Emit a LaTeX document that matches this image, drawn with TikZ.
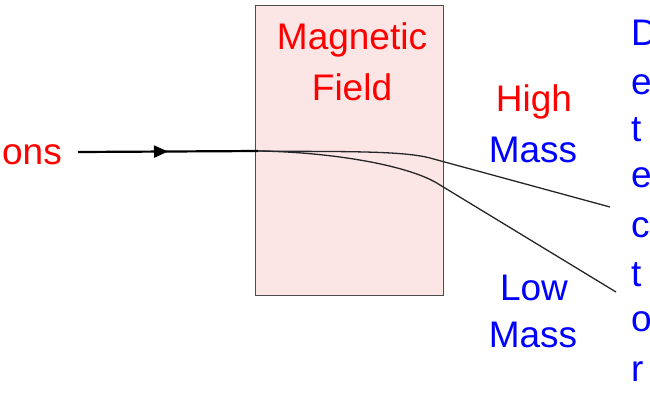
\documentclass[tikz,border=0pt]{standalone}
\usepackage{fontspec}
\setmainfont{Liberation Sans}
\usetikzlibrary{arrows.meta,decorations.markings}
\begin{document}
\begin{tikzpicture}[x=1pt,y=-1pt,
  lbl/.style={font=\fontsize{37}{37}\selectfont,inner sep=0pt},
  red/.style={text={rgb,255:red,255;green,0;blue,0}},
  blu/.style={text={rgb,255:red,0;green,0;blue,255}},
  path/.style={draw=black!85,line width=1.3pt}]
\useasboundingbox (0,0) rectangle (650,400);
\clip (0,0) rectangle (650,400);
\node[draw=black!70,line width=1pt,fill={rgb,255:red,251;green,229;blue,229},minimum width=188,minimum height=290,inner sep=0pt] (box) at (349,150) {};
\node[lbl,red] (mag) at (352,40) {Magnetic};
\node[lbl,red] (fld) at (352,87) {Field};
\node[lbl,red,anchor=east] (ions) at (62,152) {Ions};
\coordinate (s) at (78,152);
\coordinate (e) at (258,151);
\coordinate (hi) at (610,207);
\coordinate (lo) at (616,292);
\draw[line width=2.2pt,decoration={markings,mark=at position 0.5 with {\arrow{Triangle[length=14,width=12]}}},postaction=decorate] (s) -- (e);
\draw[path] (e) .. controls (330,152) and (400,150) .. (430,158) -- (hi);
\draw[path] (e) .. controls (330,152) and (410,165) .. (440,185) -- (lo);
\node[lbl,red] (high) at (534,102) {High};
\node[lbl,blu] (m1) at (533,150) {Mass};
\node[lbl,blu] (low) at (534,288) {Low};
\node[lbl,blu] (m2) at (533,335) {Mass};
\foreach \l/\y [count=\i] in {D/33,e/85,t/130,e/178,c/228,t/275,o/322,r/372}
  \node[lbl,blu,anchor=west] (d\i) at (631,\y) {\l};
\end{tikzpicture}
\end{document}
